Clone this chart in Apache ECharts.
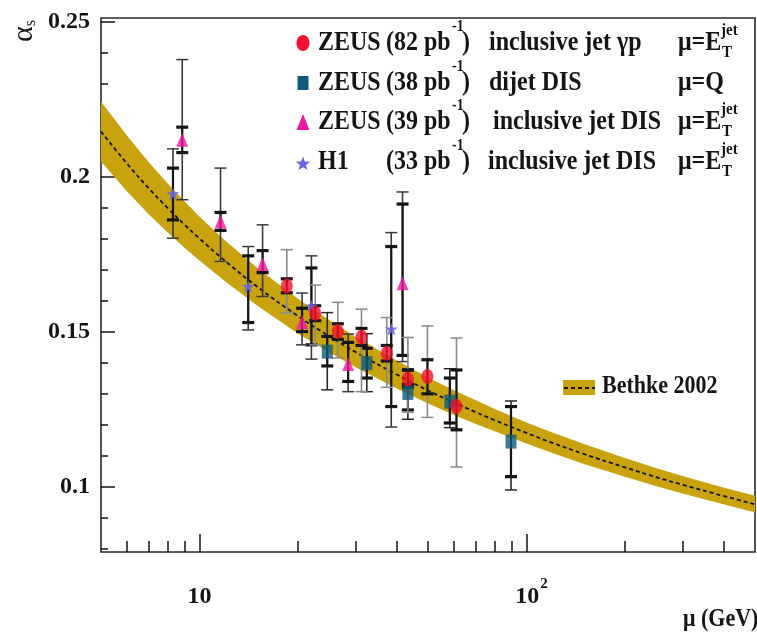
<!DOCTYPE html>
<html>
<head>
<meta charset="utf-8">
<script src="https://cdn.jsdelivr.net/npm/echarts@6/dist/echarts.min.js"></script>
<style>
  html, body { margin: 0; padding: 0; background: #ffffff; }
  #chart { width: 757px; height: 638px; }
</style>
</head>
<body>
<div id="chart"></div>
<script>
// ---- Bethke 2002 running coupling band: scale, lower edge, central value, upper edge
const bandMu   = [5, 6, 7, 8, 9, 10, 12, 15, 20, 25, 30, 40, 50, 60, 70, 80,
                  100, 120, 150, 200, 250, 300, 400, 500];
const bandLow  = [0.2048, 0.1952, 0.1878, 0.1819, 0.1770, 0.1729, 0.1661, 0.1584, 0.1494, 0.1432,
                  0.1385, 0.1317, 0.1268, 0.1231, 0.1202, 0.1178, 0.1139, 0.1108, 0.1073, 0.1032,
                  0.1001, 0.0978, 0.0943, 0.0916];
const bandMid  = [0.2145, 0.2042, 0.1962, 0.1898, 0.1845, 0.1800, 0.1727, 0.1645, 0.1550, 0.1484,
                  0.1434, 0.1362, 0.1310, 0.1271, 0.1240, 0.1214, 0.1173, 0.1141, 0.1105, 0.1062,
                  0.1030, 0.1006, 0.0970, 0.0943];
const bandHigh = [0.2242, 0.2132, 0.2046, 0.1977, 0.1920, 0.1871, 0.1793, 0.1706, 0.1606, 0.1536,
                  0.1483, 0.1407, 0.1352, 0.1311, 0.1278, 0.1250, 0.1207, 0.1174, 0.1137, 0.1092,
                  0.1059, 0.1034, 0.0997, 0.0970];

// ---- ZEUS 82 pb-1 inclusive jet photoproduction (mu = E_T^jet)
const gpMu     = [18.5, 22.6, 26.5, 31.3, 37.4, 43.4, 49.8, 61.1];
const gpAlpha  = [0.1647, 0.1559, 0.1500, 0.1482, 0.1430, 0.1347, 0.1355, 0.1258];
const gpTotLo  = [0.1560, 0.1457, 0.1415, 0.1306, 0.1320, 0.1240, 0.1223, 0.1063];
const gpTotHi  = [0.1764, 0.1650, 0.1594, 0.1572, 0.1545, 0.1481, 0.1518, 0.1479];
const gpStatLo = [0.1625, 0.1535, 0.1475, 0.1455, 0.1405, 0.1320, 0.1299, 0.1183];
const gpStatHi = [0.1670, 0.1583, 0.1525, 0.1510, 0.1455, 0.1375, 0.1409, 0.1376];

// ---- ZEUS 38 pb-1 dijet DIS (mu = Q)
const djMu     = [24.6, 32.5, 43.4, 58.3, 89.7];
const djAlpha  = [0.1435, 0.1398, 0.1302, 0.1274, 0.1145];
const djTotLo  = [0.1312, 0.1306, 0.1217, 0.1190, 0.0989];
const djTotHi  = [0.1561, 0.1493, 0.1380, 0.1380, 0.1276];
const djStatLo = [0.1389, 0.1350, 0.1247, 0.1205, 0.1032];
const djStatHi = [0.1484, 0.1446, 0.1330, 0.1350, 0.1258];

// ---- ZEUS 39 pb-1 inclusive jet DIS (mu = E_T^jet)
const ijMu     = [8.86, 11.6, 15.6, 20.6, 28.5, 41.8];
const ijAlpha  = [0.2118, 0.1855, 0.1718, 0.1531, 0.1395, 0.1656];
const ijTotLo  = [0.1925, 0.1726, 0.1613, 0.1457, 0.1306, 0.1403];
const ijTotHi  = [0.2377, 0.2027, 0.1844, 0.1624, 0.1492, 0.1950];
const ijStatLo = [0.2077, 0.1826, 0.1690, 0.1500, 0.1339, 0.1423];
const ijStatHi = [0.2159, 0.1884, 0.1761, 0.1575, 0.1465, 0.1911];

// ---- H1 33 pb-1 inclusive jet DIS (mu = E_T^jet)
const h1Mu     = [8.30, 14.1, 22.0, 38.6];
const h1Alpha  = [0.1944, 0.1645, 0.1582, 0.1508];
const h1TotLo  = [0.1801, 0.1505, 0.1411, 0.1192];
const h1TotHi  = [0.2089, 0.1774, 0.1744, 0.1819];
const h1StatLo = [0.1860, 0.1529, 0.1457, 0.1258];
const h1StatHi = [0.2027, 0.1744, 0.1705, 0.1774];

// ---- axis ticks
const xMajorTicks = [10, 100];
const xMinorTicks = [6, 7, 8, 9, 20, 30, 40, 50, 60, 70, 80, 90, 200, 300, 400];
const yMajorTicks = [0.1, 0.15, 0.2, 0.25];
const yMinorTicks = [0.08, 0.09, 0.11, 0.12, 0.13, 0.14, 0.16, 0.17, 0.18, 0.19, 0.21, 0.22, 0.23, 0.24];

const SERIF = '"Liberation Serif", "DejaVu Serif", serif';
const BAND_COLOR = '#C8A30E';
const INK = '#151515';

const zip = (...cols) => cols[0].map((_, i) => cols.map(c => c[i]));

// vertical error bar: thin total bar with thin caps, thick statistical caps
function errorBars(outerColor) {
  return function (params, api) {
    const mu = api.value(0);
    const tLo = api.coord([mu, api.value(1)]);
    const tHi = api.coord([mu, api.value(2)]);
    const sLo = api.coord([mu, api.value(3)]);
    const sHi = api.coord([mu, api.value(4)]);
    const cx = tLo[0];
    const w = 6;
    const thin = (y) => ({
      type: 'line', shape: { x1: cx - w, y1: y, x2: cx + w, y2: y },
      style: { stroke: outerColor, lineWidth: 1.5 }
    });
    const thick = (y) => ({
      type: 'rect', shape: { x: cx - w, y: y - 1.6, width: 2 * w, height: 3.2 },
      style: { fill: INK }
    });
    return {
      type: 'group',
      children: [
        { type: 'line', shape: { x1: cx, y1: tLo[1], x2: cx, y2: tHi[1] },
          style: { stroke: outerColor, lineWidth: 1.6 } },
        thin(tLo[1]), thin(tHi[1]),
        { type: 'line', shape: { x1: cx, y1: sLo[1], x2: cx, y2: sHi[1] },
          style: { stroke: INK, lineWidth: 2.2 } },
        thick(sLo[1]), thick(sHi[1])
      ]
    };
  };
}

function errSeries(mu, tLo, tHi, sLo, sHi, outerColor, z) {
  return {
    type: 'custom',
    renderItem: errorBars(outerColor),
    data: zip(mu, tLo, tHi, sLo, sHi),
    encode: { x: 0, y: [1, 2, 3, 4] },
    clip: true,
    silent: true,
    z: z
  };
}

const STAR = 'path://M50,0 L61.2,34.5 L97.6,34.5 L68.2,55.9 L79.4,90.5 L50,69.1 L20.6,90.5 L31.8,55.9 L2.4,34.5 L38.8,34.5 Z';

// five-pointed star outline for the legend key
function starPoints(cx, cy, rOut, rIn) {
  const pts = [];
  for (let k = 0; k < 10; k++) {
    const r = k % 2 === 0 ? rOut : rIn;
    const a = -Math.PI / 2 + k * Math.PI / 5;
    pts.push([cx + r * Math.cos(a), cy + r * Math.sin(a)]);
  }
  return pts;
}

const chart = echarts.init(document.getElementById('chart'), null, { renderer: 'canvas' });

function axisX(ticks, len, withLabels) {
  return {
    type: 'log', logBase: 10, min: 5, max: 500, position: 'bottom',
    axisLine: { show: false },
    splitLine: { show: false },
    axisTick: { show: true, inside: true, length: len, customValues: ticks,
                lineStyle: { color: INK, width: 1.5 } },
    axisLabel: withLabels ? {
      show: true, customValues: ticks, margin: 25,
      formatter: (v) => (Math.round(v) === 100 ? '{p|}{b|10}{s|2}' : '{b|10}'),
      rich: {
        b: { fontFamily: SERIF, fontWeight: 'bold', fontSize: 24, color: INK, lineHeight: 40 },
        s: { fontFamily: SERIF, fontWeight: 'bold', fontSize: 15, color: INK, verticalAlign: 'top', lineHeight: 12, padding: [0, 0, 0, 1] },
        p: { width: 10 }
      }
    } : { show: false }
  };
}

function axisY(ticks, len, withLabels) {
  return {
    type: 'value', min: 0.0789, max: 0.2511, position: 'left',
    axisLine: { show: false },
    splitLine: { show: false },
    axisTick: { show: true, inside: true, length: len, customValues: ticks,
                lineStyle: { color: INK, width: 1.5 } },
    axisLabel: withLabels ? {
      show: true, customValues: ticks, margin: 11,
      formatter: (v) => String(Math.round(v * 100) / 100),
      fontFamily: SERIF, fontWeight: 'bold', fontSize: 24, color: INK
    } : { show: false }
  };
}

const legendRows = [
  { y: 43,  name: 'ZEUS', lumi: '(82 pb', proc: 'inclusive jet γp',  procX: 489, scale: 'et' },
  { y: 83,  name: 'ZEUS', lumi: '(38 pb', proc: 'dijet DIS',         procX: 489, scale: 'q' },
  { y: 122, name: 'ZEUS', lumi: '(39 pb', proc: 'inclusive jet DIS', procX: 493, scale: 'et' },
  { y: 162, name: 'H1',   lumi: '(33 pb', proc: 'inclusive jet DIS', procX: 488, scale: 'et' }
];

// legend / title text, slightly stretched vertically like the rest of the lettering
const txt = (x, y, s, size, extra) => Object.assign({
  type: 'text', x: x, y: y, z: 50, scaleY: 1.12,
  style: { text: s, fontFamily: SERIF, fontWeight: 'bold', fontSize: size, fill: INK,
           verticalAlign: 'middle' }
}, extra || {});

const graphics = [];
legendRows.forEach((r) => {
  graphics.push(txt(318, r.y, r.name, 24));
  graphics.push(txt(386, r.y, r.lumi, 24));
  graphics.push(txt(452, r.y - 16, '-1', 14));
  graphics.push(txt(462, r.y, ')', 24));
  graphics.push(txt(r.procX, r.y, r.proc, 24));
  if (r.scale === 'q') {
    graphics.push(txt(678, r.y, 'μ=Q', 24));
  } else {
    graphics.push(txt(678, r.y, 'μ=E', 24));
    graphics.push(txt(721, r.y - 12, 'jet', 15));
    graphics.push(txt(722, r.y + 10, 'T', 15));
  }
});
// legend markers
graphics.push({ type: 'ellipse', z: 50, shape: { cx: 303, cy: 43, rx: 6.5, ry: 8 }, style: { fill: '#F5102E' } });
graphics.push({ type: 'rect', z: 50, shape: { x: 297.5, y: 76, width: 11, height: 14 }, style: { fill: '#0E5A7A' } });
graphics.push({ type: 'polygon', z: 50, shape: { points: [[303, 114], [309.5, 130], [296.5, 130]] }, style: { fill: '#F0189C' } });
graphics.push({ type: 'polygon', z: 50, shape: { points: starPoints(303, 164, 7.5, 3.2) }, style: { fill: '#6B66DD' } });

// Bethke 2002 legend entry
graphics.push({ type: 'rect', z: 50, shape: { x: 563, y: 380, width: 32, height: 15 }, style: { fill: BAND_COLOR } });
graphics.push({ type: 'line', z: 51, shape: { x1: 564, y1: 388, x2: 595, y2: 388 }, style: { stroke: INK, lineWidth: 2, lineDash: [4, 3] } });
graphics.push(txt(602, 387, 'Bethke 2002', 22));

// axis titles
graphics.push({
  type: 'text', x: 24, y: 31, rotation: Math.PI / 2, z: 50,
  style: {
    text: '{a|α}{s|s}', align: 'center', verticalAlign: 'middle',
    rich: {
      a: { fontFamily: SERIF, fontSize: 30, fill: INK },
      s: { fontFamily: SERIF, fontSize: 16, fill: INK, verticalAlign: 'bottom' }
    }
  }
});
graphics.push(txt(683, 620, 'μ (GeV)', 22));

const option = {
  animation: false,
  backgroundColor: '#ffffff',
  grid: { left: 101, right: 2, top: 18, bottom: 86, show: true, borderColor: '#2a2a2a', borderWidth: 1.6, backgroundColor: 'transparent' },
  xAxis: [axisX(xMajorTicks, 18, true), axisX(xMinorTicks, 11, false)],
  yAxis: [axisY(yMajorTicks, 14, true), axisY(yMinorTicks, 7, false)],
  graphic: graphics,
  series: [
    {
      // uncertainty band drawn as one polygon through the upper edge and back along the lower edge
      type: 'custom',
      silent: true,
      clip: true,
      z: 1,
      data: [[bandMu[0], bandLow[0]]],
      renderItem: function (params, api) {
        const pts = [];
        for (let i = 0; i < bandMu.length; i++) pts.push(api.coord([bandMu[i], bandHigh[i]]));
        for (let i = bandMu.length - 1; i >= 0; i--) pts.push(api.coord([bandMu[i], bandLow[i]]));
        return { type: 'polygon', shape: { points: pts }, style: { fill: BAND_COLOR } };
      }
    },
    {
      type: 'line',
      data: zip(bandMu, bandMid),
      smooth: true,
      symbol: 'none',
      silent: true,
      z: 2,
      lineStyle: { color: INK, width: 1.8, type: [4, 3] }
    },
    errSeries(h1Mu, h1TotLo, h1TotHi, h1StatLo, h1StatHi, '#3a3a3a', 3),
    errSeries(ijMu, ijTotLo, ijTotHi, ijStatLo, ijStatHi, '#3a3a3a', 3),
    errSeries(djMu, djTotLo, djTotHi, djStatLo, djStatHi, '#2a2a2a', 3),
    errSeries(gpMu, gpTotLo, gpTotHi, gpStatLo, gpStatHi, '#8a8a8a', 3),
    {
      name: 'H1 (33 pb-1) inclusive jet DIS',
      type: 'scatter', data: zip(h1Mu, h1Alpha), symbol: STAR, symbolSize: 13, z: 5,
      itemStyle: { color: '#6B66DD', opacity: 0.9 }
    },
    {
      name: 'ZEUS (39 pb-1) inclusive jet DIS',
      type: 'scatter', data: zip(ijMu, ijAlpha), symbol: 'triangle', symbolSize: [12, 14], z: 5,
      itemStyle: { color: '#F0189C' }
    },
    {
      name: 'ZEUS (38 pb-1) dijet DIS',
      type: 'scatter', data: zip(djMu, djAlpha), symbol: 'rect', symbolSize: [11, 14], z: 5,
      itemStyle: { color: '#0E5A7A' }
    },
    {
      name: 'ZEUS (82 pb-1) inclusive jet γp',
      type: 'scatter', data: zip(gpMu, gpAlpha), symbol: 'circle', symbolSize: [12, 15], z: 6,
      itemStyle: { color: '#F5102E' }
    }
  ]
};

chart.setOption(option);
</script>
</body>
</html>
